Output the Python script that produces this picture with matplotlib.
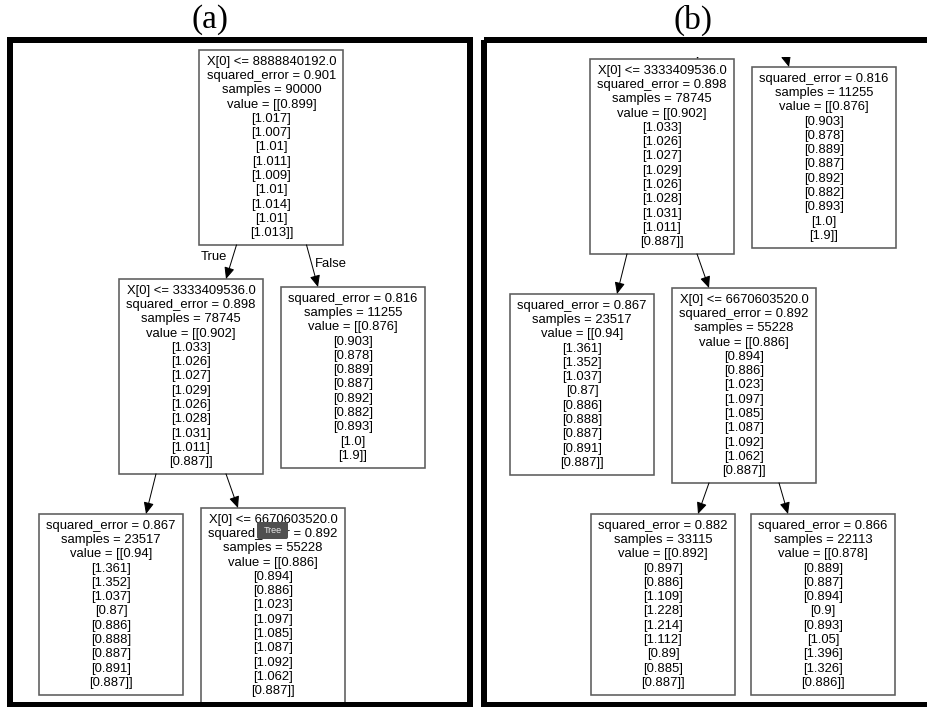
import matplotlib
matplotlib.use("Agg")
import matplotlib.pyplot as plt
from matplotlib.patches import Rectangle, FancyArrowPatch, FancyBboxPatch

# ---- regression tree contents (split on feature 0) ----
node_names = ["root", "n1", "n2", "n3", "n4", "n5", "n6"]
thresholds = [8888840192.0, 3333409536.0, None, None, 6670603520.0, None, None]
squared_errors = [0.901, 0.898, 0.816, 0.867, 0.892, 0.882, 0.866]
sample_counts = [90000, 78745, 11255, 23517, 55228, 33115, 22113]

value_root = [0.899, 1.017, 1.007, 1.01, 1.011, 1.009, 1.01, 1.014, 1.01, 1.013]
value_n1 = [0.902, 1.033, 1.026, 1.027, 1.029, 1.026, 1.028, 1.031, 1.011, 0.887]
value_n2 = [0.876, 0.903, 0.878, 0.889, 0.887, 0.892, 0.882, 0.893, 1.0, 1.9]
value_n3 = [0.94, 1.361, 1.352, 1.037, 0.87, 0.886, 0.888, 0.887, 0.891, 0.887]
value_n4 = [0.886, 0.894, 0.886, 1.023, 1.097, 1.085, 1.087, 1.092, 1.062, 0.887]
value_n5 = [0.892, 0.897, 0.886, 1.109, 1.228, 1.214, 1.112, 0.89, 0.885, 0.887]
value_n6 = [0.878, 0.889, 0.887, 0.894, 0.9, 0.893, 1.05, 1.396, 1.326, 0.886]
node_values = [value_root, value_n1, value_n2, value_n3, value_n4, value_n5, value_n6]

edges = [(0, 1), (0, 2), (1, 3), (1, 4), (4, 5), (4, 6)]
edge_labels = {(0, 1): "True", (0, 2): "False"}

panel_titles = ["(a)", "(b)"]

# ---- layout of the rendered tree (pixel units of the tree canvas) ----
node_cx = [271.5, 191, 353, 111, 273, 192, 352]
node_top = [50, 279, 287, 514, 508, 734, 734]
BOX_W = 144
LINE_H = 14.3
PAD = 4.5
FONT_PT = 9.4

W, H = 928, 707
fig = plt.figure(figsize=(W / 100, H / 100), dpi=100)
fig.patch.set_facecolor("white")

bg = fig.add_axes([0, 0, 1, 1])
bg.set_xlim(0, W)
bg.set_ylim(H, 0)
bg.axis("off")

PX = 72 / 100  # points per pixel


def node_lines(i):
    lines = []
    if thresholds[i] is not None:
        lines.append(f"X[0] <= {thresholds[i]}")
    lines.append(f"squared_error = {squared_errors[i]}")
    lines.append(f"samples = {sample_counts[i]}")
    vals = node_values[i]
    lines.append(f"value = [[{vals[0]}]")
    for v in vals[1:-1]:
        lines.append(f"[{v}]")
    lines.append(f"[{vals[-1]}]]")
    return lines


def box_height(i):
    return len(node_lines(i)) * LINE_H + 2 * PAD


def draw_tree(ax, y_lo, y_hi):
    """Draw every node and edge; text lines are only placed when they
    fall fully inside the visible window [y_lo, y_hi]."""

    def put(x, y, s, **kw):
        if y - 7 >= y_lo and y + 7 <= y_hi:
            ax.text(x, y, s, va="center", fontsize=FONT_PT,
                    family="Liberation Sans", color="black", zorder=3, **kw)

    for i in range(len(node_names)):
        lines = node_lines(i)
        h = box_height(i)
        ax.add_patch(Rectangle((node_cx[i] - BOX_W / 2, node_top[i]), BOX_W, h,
                               fill=False, ec="#5c5c5c", lw=1.6 * PX, zorder=2))
        for k, s in enumerate(lines):
            y = node_top[i] + PAD + LINE_H * (k + 0.5)
            put(node_cx[i], y, s, ha="center")
    for (p, c) in edges:
        sgn = 1 if node_cx[c] > node_cx[p] else -1
        x0 = node_cx[p] + sgn * 35
        y0 = node_top[p] + box_height(p)
        x1 = node_cx[c] - sgn * 35
        y1 = node_top[c]
        ax.add_patch(FancyArrowPatch((x0, y0), (x1, y1),
                                     arrowstyle="-|>,head_length=0.5,head_width=0.22",
                                     mutation_scale=14, color="black", lw=1.0 * PX,
                                     shrinkA=0, shrinkB=0, zorder=2))
        lab = edge_labels.get((p, c))
        if lab is not None:
            if sgn < 0:
                put(x0 - 9, y0 + 12, lab, ha="right")
            else:
                put(x0 + 8, y0 + 19, lab, ha="left")


# viewports: (left, top, right, bottom) in figure pixels, and scroll offset
viewports = [(13, 43, 467, 702), (487, 57, 928, 702)]
offsets = [(0, 0), (471, -220)]

for (l, t, r, b), (dx, dy) in zip(viewports, offsets):
    ax = fig.add_axes([l / W, 1 - b / H, (r - l) / W, (b - t) / H])
    ax.set_xlim(l - dx, r - dx)
    ax.set_ylim(b - dy, t - dy)
    ax.axis("off")
    draw_tree(ax, t - dy, b - dy)

# thick panel frames
bg.add_patch(Rectangle((10, 40), 460, 665, fill=False, ec="black", lw=6 * PX, zorder=5))
bg.add_patch(Rectangle((484, 40), 480, 665, fill=False, ec="black", lw=6 * PX, zorder=5))

# panel titles
bg.text(210, 20, panel_titles[0], ha="center", va="center", fontsize=24,
        family="Liberation Serif")
bg.text(693, 20, panel_titles[1], ha="center", va="center", fontsize=24,
        family="Liberation Serif")

# hover tooltip over the lower split node
tip_ax = fig.add_axes([0, 0, 1, 1])
tip_ax.set_xlim(0, W)
tip_ax.set_ylim(H, 0)
tip_ax.axis("off")
tip_ax.add_patch(FancyBboxPatch((257, 522), 31, 17, boxstyle="round,pad=0,rounding_size=2",
                                fc="#505050", ec="none", zorder=10))
tip_ax.text(272.5, 530.5, "Tree", ha="center", va="center", fontsize=6.5,
            family="Liberation Sans", color="#e8e8e8", zorder=11)

fig.savefig("out.png", dpi=100)
